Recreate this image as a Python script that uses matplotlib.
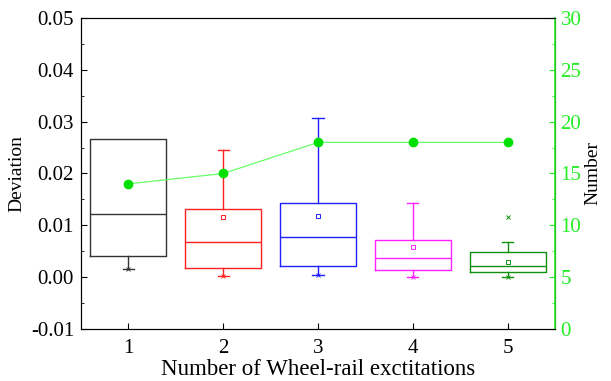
import numpy as np
import matplotlib
matplotlib.use('Agg')
import matplotlib.pyplot as plt
from matplotlib.ticker import MultipleLocator

plt.rcParams['font.family'] = ['Liberation Serif', 'DejaVu Serif']

# box statistics
positions = [1, 2, 3, 4, 5]
q1      = [0.0041, 0.0017, 0.0021, 0.0013, 0.0010]
med     = [0.0121, 0.0067, 0.0077, 0.0037, 0.0021]
q3      = [0.0266, 0.0131, 0.0144, 0.0071, 0.0048]
wlo     = [0.0016, 0.0002, 0.0005, 0.0001, 0.0000]
whi     = [0.0266, 0.0245, 0.0308, 0.0144, 0.0067]
means   = [0.0179, 0.0116, 0.0118, 0.0058, 0.0030]
fliers  = [[], [], [], [], [0.0116]]
colors  = ['#333333', '#ff2020', '#2020ff', '#ff20ff', '#109010']

# number of excitations (right axis)
number = [14, 15, 18, 18, 18]

fig = plt.figure(figsize=(6.11, 3.81), dpi=100)
ax = fig.add_axes([81/611, 1-329/381, (555-81)/611, (329-18)/381])

for i in range(len(positions)):
    c = colors[i]
    s = dict(q1=q1[i], med=med[i], q3=q3[i], whislo=wlo[i],
             whishi=whi[i], mean=means[i], fliers=fliers[i])
    art = ax.bxp([s], positions=[positions[i]], widths=0.8, capwidths=0.12,
                 showmeans=True, showfliers=True,
                 boxprops=dict(color=c, lw=1.0),
                 medianprops=dict(color=c, lw=1.0),
                 whiskerprops=dict(color=c, lw=1.0),
                 capprops=dict(color=c, lw=1.0),
                 meanprops=dict(marker='s', markersize=3.5, markerfacecolor='none',
                                markeredgecolor=c, markeredgewidth=0.7),
                 flierprops=dict(marker='x', markersize=3.5, markeredgecolor=c,
                                 markeredgewidth=0.7))
    if whi[i] <= q3[i]:
        art['caps'][1].set_visible(False)
    ax.plot(positions[i], wlo[i], marker='x', ms=3, mec=c, mew=0.6, zorder=3)

ax.set_xlim(0.5, 5.5)
ax.set_ylim(-0.01, 0.05)
ax.set_xticks(positions)
ax.set_xticklabels([str(p) for p in positions])
ax.yaxis.set_major_locator(MultipleLocator(0.01))
ax.yaxis.set_minor_locator(MultipleLocator(0.005))
ax.yaxis.set_major_formatter(plt.FuncFormatter(lambda v, p: '%.2f' % v))
ax.tick_params(axis='both', direction='in', labelsize=15, length=4)
ax.tick_params(axis='y', which='minor', direction='in', length=2.5)
ax.tick_params(axis='x', pad=7)
ax.tick_params(axis='y', pad=5)
for sp in ['left', 'bottom', 'top']:
    ax.spines[sp].set_color('#222222')
ax.set_xlabel('Number of Wheel-rail exctitations', fontsize=16.5, labelpad=1)
ax.set_ylabel('Deviation', fontsize=14, labelpad=4)

ax2 = ax.twinx()
ax2.plot(positions, number, color='#66ff66', lw=0.9, marker='o', ms=6,
         mfc='#00e000', mec='#00e000', zorder=5)
ax2.set_ylim(0, 30)
ax2.yaxis.set_major_locator(MultipleLocator(5))
ax2.yaxis.set_minor_locator(MultipleLocator(2.5))
ax2.tick_params(axis='y', direction='in', colors='#22ee22', labelsize=15, length=4, pad=4)
ax2.tick_params(axis='y', which='minor', direction='in', colors='#22ee22', length=2.5)
ax2.spines['right'].set_color('#22ee22')
ax2.spines['right'].set_linewidth(1.2)
ax2.set_ylabel('Number', fontsize=14, labelpad=2)

fig.savefig('out.png', dpi=100)
